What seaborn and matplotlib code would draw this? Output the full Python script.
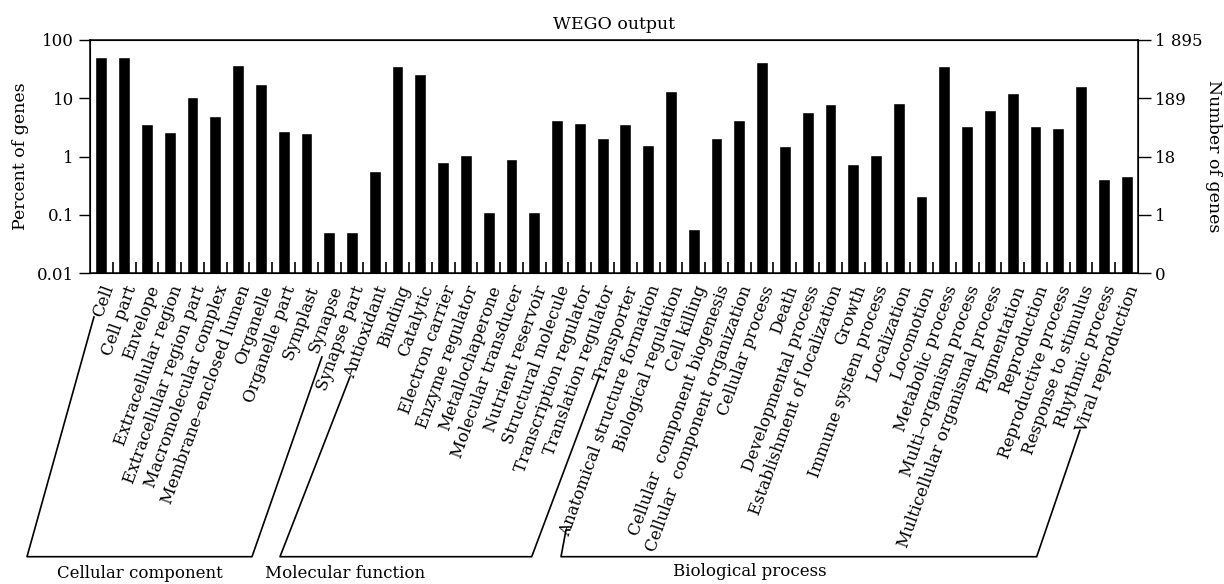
# WEGO output - GO category distribution
import pandas as pd
import seaborn as sns
import matplotlib.pyplot as plt
from matplotlib.lines import Line2D
from matplotlib.ticker import FixedLocator, NullFormatter

# Data
cellular = ["Cell", "Cell part", "Envelope", "Extracellular region",
            "Extracellular region part", "Macromolecular complex",
            "Membrane\u2013enclosed lumen", "Organelle", "Organelle part",
            "Symplast", "Synapse", "Synapse part"]
molecular = ["Antioxidant", "Binding", "Catalytic", "Electron carrier",
             "Enzyme regulator", "Metallochaperone", "Molecular transducer",
             "Nutrient reservoir", "Structural molecule",
             "Transcription regulator", "Translation regulator", "Transporter"]
biological = ["Anatomical structure formation", "Biological regulation",
              "Cell killing", "Cellular  component biogenesis",
              "Cellular  component organization", "Cellular process", "Death",
              "Developmental process", "Establishment of localization",
              "Growth", "Immune system process", "Localization", "Locomotion",
              "Metabolic process", "Multi\u2013organism process",
              "Multicellular organismal process", "Pigmentation",
              "Reproduction", "Reproductive process", "Response to stimulus",
              "Rhythmic process", "Viral reproduction"]

cellular_pct = [50, 50, 3.56, 2.6, 10.4, 4.9, 36.5, 17.2, 2.7, 2.52, 0.051, 0.051]
molecular_pct = [0.56, 35, 25.9, 0.79, 1.06, 0.112, 0.905, 0.112, 4.2, 3.75, 2.07, 3.6]
biological_pct = [1.57, 13.2, 0.057, 2.07, 4.2, 41.5, 1.51, 5.8, 7.9, 0.745,
                  1.06, 8.2, 0.21, 35.5, 3.33, 6.25, 12.2, 3.33, 3.08, 16.1,
                  0.41, 0.46]

group_names = ["Cellular component", "Molecular function", "Biological process"]
left_ticks = [0.01, 0.1, 1, 10, 100]
left_labels = ["0.01", "0.1", "1", "10", "100"]
right_labels = ["0", "1", "18", "189", "1 895"]

df = pd.DataFrame({
    "term": cellular + molecular + biological,
    "percent": cellular_pct + molecular_pct + biological_pct,
})

sns.set_style("ticks", {"axes.edgecolor": "black", "text.color": "black",
                        "xtick.color": "black", "ytick.color": "black",
                        "axes.labelcolor": "black"})
plt.rcParams["font.family"] = ["DejaVu Serif"]

W, H = 1224, 584
fig, ax = plt.subplots(figsize=(W / 100, H / 100), dpi=100)
fig.subplots_adjust(left=90 / W, right=1138 / W, top=1 - 39.7 / H, bottom=1 - 273.3 / H)

sns.barplot(data=df, x="term", y="percent", color="black", width=0.52,
            saturation=1, ax=ax)
ax.set_yscale("log")
ax.set_ylim(0.01, 100)
n = len(df)
ax.set_xlim(-0.5, n - 0.5)

ax.yaxis.set_major_locator(FixedLocator(left_ticks))
ax.set_yticklabels(left_labels, fontsize=12)
ax.yaxis.set_minor_locator(FixedLocator([]))
ax.tick_params(axis="y", direction="out", length=8, width=1)

# x ticks: little inward marks between bars
ax.set_xticks(range(n))
ax.set_xticklabels(df["term"], rotation=70, ha="right", rotation_mode="anchor",
                   fontsize=12)
ax.tick_params(axis="x", which="major", length=0, pad=7)
ax.set_xticks([i + 0.5 for i in range(n - 1)], minor=True)
ax.xaxis.set_minor_formatter(NullFormatter())
ax.tick_params(axis="x", which="minor", direction="in", length=8, width=1.2)
ax.set_xlabel("")
ax.set_ylabel("Percent of genes", fontsize=12.5, labelpad=6)
ax.set_title("WEGO output", fontsize=12.5, pad=8)
for s in ax.spines.values():
    s.set_linewidth(1.1)

# right axis: number of genes
ax2 = ax.twinx()
ax2.set_yscale("log")
ax2.set_ylim(0.01, 100)
ax2.yaxis.set_major_locator(FixedLocator(left_ticks))
ax2.set_yticklabels(right_labels, fontsize=12)
ax2.yaxis.set_minor_locator(FixedLocator([]))
ax2.tick_params(axis="y", direction="out", length=9, width=1)
ax2.set_ylabel("Number of genes", fontsize=12.5, rotation=-90, labelpad=14)

# group brackets (pixel layout)
def px(x, y):
    return x / W, 1 - y / H

brackets = [
    [(94, 316.7), (27, 556.7), (252, 556.7), (322, 356.7)],
    [(350, 376.7), (280, 556.7), (531.7, 556.7), (600, 375)],
    [(570, 530), (566, 530), (561, 556.7), (1036.7, 556.7), (1080, 430)],
]
label_pos = [(140, 574), (345, 574), (750, 572)]
for pts, name, (lx, ly) in zip(brackets, group_names, label_pos):
    xs, ys = zip(*[px(*p) for p in pts])
    fig.add_artist(Line2D(xs, ys, color="black", lw=1.2, transform=fig.transFigure))
    fig.text(*px(lx, ly), name, ha="center", va="center", fontsize=12)

fig.savefig("out.png", dpi=100)
